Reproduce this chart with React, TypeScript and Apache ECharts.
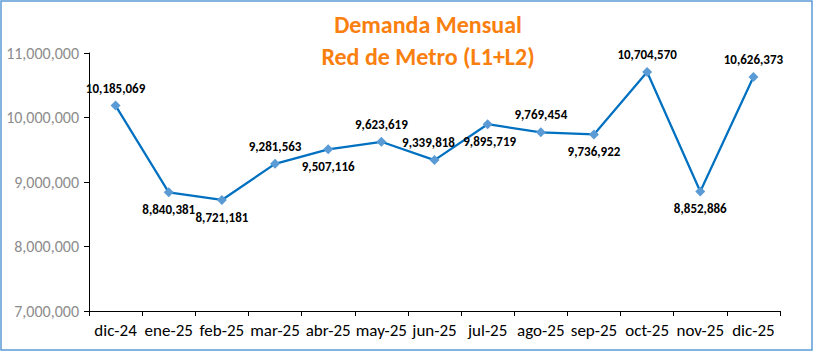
import React, { useEffect, useRef } from "react";
import * as echarts from "echarts";

const categories = ["dic-24", "ene-25", "feb-25", "mar-25", "abr-25", "may-25", "jun-25", "jul-25", "ago-25", "sep-25", "oct-25", "nov-25", "dic-25"];
const values = [10185069, 8840381, 8721181, 9281563, 9507116, 9623619, 9339818, 9895719, 9769454, 9736922, 10704570, 8852886, 10626373];
const labelPositions = ["top", "bottom", "bottom", "top", "bottom", "top", "top", "bottom", "top", "bottom", "top", "bottom", "top"];
const titleLines = ["Demanda Mensual", "Red de Metro (L1+L2)"];

const FONT = "Carlito, Calibri, 'Liberation Sans Narrow', Lato, 'Open Sans', sans-serif";

export default function App() {
  const ref = useRef<HTMLDivElement>(null);
  useEffect(() => {
    const chart = echarts.init(ref.current!, null, { renderer: "svg" });
    const fmt = (v: number) => v.toLocaleString("en-US");
    chart.setOption({
      animation: false,
      backgroundColor: "#fff",
      title: {
        text: titleLines.join("\n"),
        left: 423,
        top: 3,
        textAlign: "center",
        textStyle: { color: "#F9800F", fontSize: 24, fontWeight: "bold", fontFamily: FONT, lineHeight: 32 },
      },
      graphic: [
        { type: "rect", shape: { x: 1, y: 1, width: 811, height: 349 }, style: { fill: "none", stroke: "#5B9BD5", lineWidth: 1.5 } },
      ],
      grid: { left: 89, right: 36, top: 53, bottom: 48 },
      xAxis: {
        type: "category",
        data: categories,
        boundaryGap: true,
        axisLine: { lineStyle: { color: "#000", width: 1 } },
        axisTick: { show: true, alignWithLabel: false, interval: 0, length: 5, lineStyle: { color: "#000" } },
        axisLabel: { color: "#000", fontSize: 17, fontFamily: FONT, margin: 11, interval: 0 },
      },
      yAxis: {
        type: "value",
        min: 7000000,
        max: 11000000,
        interval: 1000000,
        axisLine: { show: true, lineStyle: { color: "#000", width: 1 } },
        axisTick: { show: true, length: 5, lineStyle: { color: "#000" } },
        splitLine: { show: false },
        axisLabel: { color: "#8C8C8C", fontSize: 16, fontFamily: FONT, margin: 10, formatter: (v: number) => fmt(v) },
      },
      series: [
        {
          type: "line",
          data: values.map((v, i) => ({
            value: v,
            label: {
              position: labelPositions[i],
              offset: i === 6 ? [-6, 0] : i === 7 ? [2, 0] : [0, 0],
            },
          })),
          symbol: "diamond",
          symbolSize: 10,
          lineStyle: { color: "#0070C0", width: 2.25 },
          itemStyle: { color: "#5B9BD5" },
          label: {
            show: true,
            distance: 6,
            color: "#000",
            fontWeight: "bold",
            fontSize: 13,
            fontFamily: FONT,
            formatter: (p: any) => fmt(p.value),
          },
        },
      ],
    });
    return () => chart.dispose();
  }, []);
  return <div ref={ref} style={{ position: "absolute", left: 0, top: 0, width: 816, height: 359 }} />;
}
